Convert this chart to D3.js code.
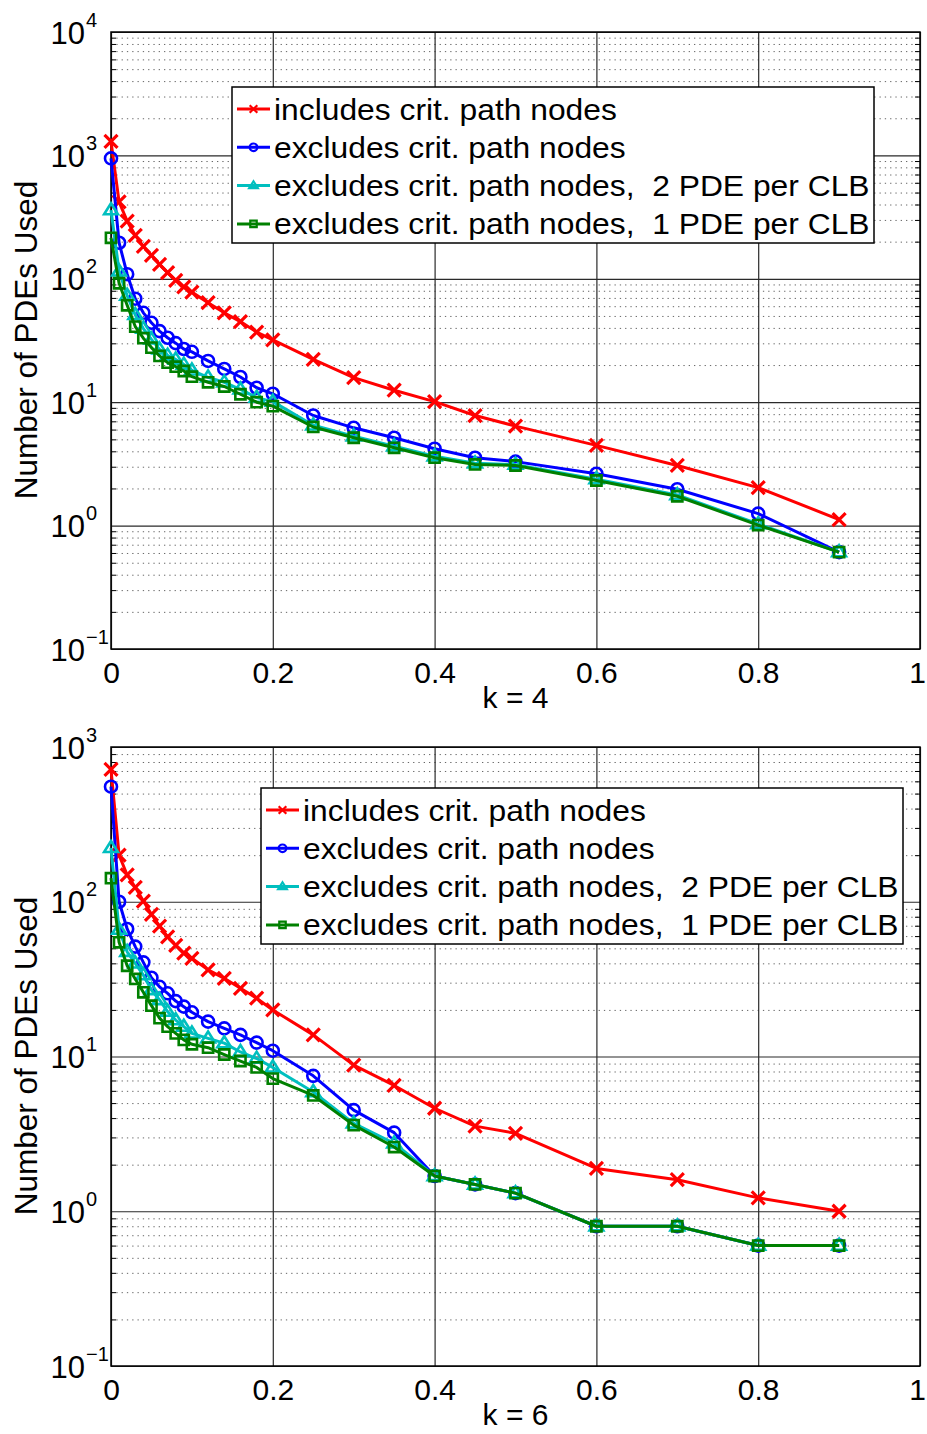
<!DOCTYPE html>
<html>
<head>
<meta charset="utf-8">
<script src="https://cdn.jsdelivr.net/npm/d3@7"></script>
<style>
  html, body { margin: 0; padding: 0; background: #fff; }
  svg { display: block; }
  text { font-family: "Liberation Sans", Arial, Helvetica, sans-serif; fill: #000; white-space: pre; }
</style>
</head>
<body>
<svg id="chart" width="927" height="1434"></svg>
<script>
// ---------------- DATA ----------------
const kValues = [0, 0.01, 0.02, 0.03, 0.04, 0.05, 0.06, 0.07, 0.08, 0.09, 0.1,
                 0.12, 0.14, 0.16, 0.18, 0.2, 0.25, 0.3, 0.35, 0.4, 0.45, 0.5,
                 0.6, 0.7, 0.8, 0.9];

const seriesNames = [
  "includes crit. path nodes",
  "excludes crit. path nodes",
  "excludes crit. path nodes,  2 PDE per CLB",
  "excludes crit. path nodes,  1 PDE per CLB"
];

// k = 4 panel
const k4Includes = [1300, 420, 293, 225, 183, 155, 131, 112, 97, 86, 78, 64, 53, 45, 37, 32,
                    22.2, 15.8, 12.5, 10.1, 7.8, 6.4, 4.47, 3.07, 2.03, 1.12];
const k4Excludes = [946, 196, 109, 69, 53, 44, 37.7, 33.3, 30.1, 27, 25.6, 21.6, 18.6, 16.0, 13.1, 11.7,
                    7.8, 6.2, 5.15, 4.2, 3.55, 3.3, 2.63, 1.97, 1.25, 0.61];
const k4Excl2PDE = [360, 115, 73, 51, 39.5, 32.3, 26.8, 23.9, 22.2, 20.2, 18.1, 15.9, 14.5, 12.7, 10.9, 10.1,
                    6.5, 5.3, 4.4, 3.65, 3.2, 3.12, 2.38, 1.77, 1.03, 0.61];
const k4Excl1PDE = [215, 92, 61, 41, 33, 27.7, 23.7, 20.9, 19.4, 17.9, 16.1, 14.5, 13.4, 11.6, 10.0, 9.3,
                    6.3, 5.15, 4.27, 3.55, 3.13, 3.07, 2.32, 1.73, 1.01, 0.61];

// k = 6 panel
const k6Includes = [716, 200, 149, 124, 101, 83, 69.5, 59.4, 52.3, 46.5, 43.1, 36.3, 32, 27.6, 23.8, 20,
                    13.8, 8.8, 6.5, 4.63, 3.55, 3.19, 1.89, 1.6, 1.22, 1.0];
const k6Excludes = [554, 100, 66.7, 51.3, 40.6, 32.3, 28.2, 25.6, 22.8, 21, 19.3, 16.8, 15.2, 13.8, 12.3, 10.9,
                    7.5, 4.5, 3.22, 1.69, 1.49, 1.31, 0.8, 0.8, 0.6, 0.6];
const k6Excl2PDE = [223, 66, 47.5, 40, 33.6, 26.9, 23.2, 19.5, 17.2, 15.6, 14.1, 13.1, 12.2, 10.7, 9.7, 8.5,
                    5.9, 3.7, 2.75, 1.69, 1.49, 1.31, 0.8, 0.8, 0.6, 0.6];
const k6Excl1PDE = [142, 54.7, 38.6, 31.7, 26, 21.3, 17.7, 15.6, 14.1, 12.8, 12.0, 11.4, 10.3, 9.35, 8.5, 7.2,
                    5.6, 3.6, 2.6, 1.69, 1.49, 1.31, 0.8, 0.8, 0.6, 0.6];

const xTicks = [0, 0.2, 0.4, 0.6, 0.8, 1];
const xTickLabels = ["0", "0.2", "0.4", "0.6", "0.8", "1"];
const k4YExponents = [-1, 0, 1, 2, 3, 4];
const k6YExponents = [-1, 0, 1, 2, 3];
const xAxisTitles = ["k = 4", "k = 6"];
const yAxisTitle = "Number of PDEs Used";

// ---------------- STYLE ----------------
const colors = ["#ff0000", "#0000ff", "#00bfbf", "#008000"];
const markers = ["cross", "circle", "triangle", "square"];

const svg = d3.select("#chart");
const xLeft = 111, xRight = 920;

function markerPath(type, s) {
  if (type === "cross") return `M${-s},${-s}L${s},${s}M${-s},${s}L${s},${-s}`;
  if (type === "circle") return `M${s},0A${s},${s} 0 1,1 ${-s},0A${s},${s} 0 1,1 ${s},0Z`;
  if (type === "triangle") { const h = s * 1.15; return `M0,${-h}L${h},${h*0.6}L${-h},${h*0.6}Z`; }
  if (type === "square") { const q = s * 0.85; return `M${-q},${-q}H${q}V${q}H${-q}Z`; }
}

function drawPanel(cfg) {
  const g = svg.append("g");
  const x = d3.scaleLinear().domain([0, 1]).range([xLeft, xRight]);
  const y = d3.scaleLog().domain([0.1, Math.pow(10, cfg.exps[cfg.exps.length - 1])]).range([cfg.bottom, cfg.top]);
  const width = xRight - xLeft, height = cfg.bottom - cfg.top;

  // minor grid (dotted)
  const minor = [];
  for (let e = cfg.exps[0]; e < cfg.exps[cfg.exps.length - 1]; e++)
    for (let m = 2; m <= 9; m++) minor.push(m * Math.pow(10, e));
  g.append("g").attr("transform", `translate(${xLeft},0)`)
    .call(d3.axisLeft(y).tickValues(minor).tickSize(-width).tickFormat(""))
    .call(s => s.select(".domain").remove())
    .call(s => s.selectAll("line").attr("stroke", "#666").attr("stroke-width", 1).attr("stroke-dasharray", "1.3,4"));

  // major grid
  const majors = cfg.exps.map(e => Math.pow(10, e));
  g.append("g").attr("transform", `translate(${xLeft},0)`)
    .call(d3.axisLeft(y).tickValues(majors).tickSize(-width).tickFormat(""))
    .call(s => s.select(".domain").remove())
    .call(s => s.selectAll("line").attr("stroke", "#2a2a2a").attr("stroke-width", 1.2));
  g.append("g").attr("transform", `translate(0,${cfg.bottom})`)
    .call(d3.axisBottom(x).tickValues(xTicks).tickSize(-height).tickFormat(""))
    .call(s => s.select(".domain").remove())
    .call(s => s.selectAll("line").attr("stroke", "#2a2a2a").attr("stroke-width", 1.2));

  // inside minor ticks on left and right
  g.append("g").attr("transform", `translate(${xLeft},0)`)
    .call(d3.axisLeft(y).tickValues(minor).tickSize(-5).tickFormat(""))
    .call(s => s.select(".domain").remove())
    .call(s => s.selectAll("line").attr("stroke", "#000").attr("stroke-width", 1));
  g.append("g").attr("transform", `translate(${xRight},0)`)
    .call(d3.axisRight(y).tickValues(minor).tickSize(-5).tickFormat(""))
    .call(s => s.select(".domain").remove())
    .call(s => s.selectAll("line").attr("stroke", "#000").attr("stroke-width", 1));

  // frame
  g.append("rect").attr("x", xLeft).attr("y", cfg.top).attr("width", width).attr("height", height)
    .attr("fill", "none").attr("stroke", "#000").attr("stroke-width", 1.5);

  // x tick labels
  const xa = g.append("g").attr("transform", `translate(0,${cfg.bottom})`)
    .call(d3.axisBottom(x).tickValues(xTicks).tickSize(0).tickPadding(0)
      .tickFormat((d, i) => xTickLabels[i]));
  xa.select(".domain").remove();
  xa.selectAll("text").attr("y", 34).attr("dy", null)
    .attr("dx", d => d === 1 ? -3 : 0)
    .style("font-size", "30px").attr("font-family", null);

  // y tick labels 10^n
  const ya = g.append("g").attr("transform", `translate(${xLeft},0)`)
    .call(d3.axisLeft(y).tickValues(majors).tickSize(0).tickFormat(""));
  ya.select(".domain").remove();
  ya.selectAll(".tick").each(function(d) {
    const e = Math.round(Math.log10(d));
    const t = d3.select(this);
    t.append("text").attr("x", 85 - xLeft).attr("y", 11).attr("text-anchor", "end")
      .style("font-size", "31px").text("10");
    t.append("text").attr("x", 86 - xLeft).attr("y", -6).attr("text-anchor", "start")
      .style("font-size", "20px").text(e < 0 ? "\u2212" + Math.abs(e) : String(e));
  });

  // axis titles
  g.append("text").attr("x", (xLeft + xRight) / 2).attr("y", cfg.bottom + 59)
    .attr("text-anchor", "middle").style("font-size", "30px").text(cfg.xTitle);
  g.append("text").attr("transform", `translate(37,${cfg.yTitleY}) rotate(-90)`)
    .attr("text-anchor", "middle").style("font-size", "31.5px").text(yAxisTitle);

  // series
  const line = d3.line().x((d, i) => x(kValues[i])).y(d => y(d));
  cfg.series.forEach((vals, si) => {
    const sg = g.append("g");
    sg.append("path").attr("d", line(vals)).attr("fill", "none")
      .attr("stroke", colors[si]).attr("stroke-width", 3).attr("stroke-linejoin", "round");
    sg.selectAll("path.m").data(vals).enter().append("path").attr("class", "m")
      .attr("transform", (d, i) => `translate(${x(kValues[i])},${y(d)})`)
      .attr("d", markerPath(markers[si], si === 0 ? 6.5 : 6))
      .attr("fill", "none").attr("stroke", colors[si]).attr("stroke-width", si === 0 ? 3.2 : 2.6);
  });

  // legend
  const lg = g.append("g").attr("transform", `translate(${cfg.legendX},${cfg.legendY})`);
  lg.append("rect").attr("x", 0).attr("y", 0).attr("width", 642).attr("height", 156)
    .attr("fill", "#fff").attr("stroke", "#000").attr("stroke-width", 1.5);
  seriesNames.forEach((name, i) => {
    const cy = 22 + i * 38.3;
    lg.append("line").attr("x1", 5).attr("x2", 38).attr("y1", cy).attr("y2", cy)
      .attr("stroke", colors[i]).attr("stroke-width", 3);
    lg.append("path").attr("transform", `translate(21.5,${cy})`).attr("d", markerPath(markers[i], 3.8))
      .attr("fill", "none").attr("stroke", colors[i]).attr("stroke-width", 2.2);
    lg.append("text").attr("transform", `translate(42,${cy + 10.5}) scale(1.06,1)`)
      .attr("xml:space", "preserve")
      .style("font-size", "30px").text(name);
  });
}

drawPanel({
  top: 32, bottom: 649, exps: k4YExponents, xTitle: xAxisTitles[0], yTitleY: 340,
  series: [k4Includes, k4Excludes, k4Excl2PDE, k4Excl1PDE],
  legendX: 232, legendY: 87
});
drawPanel({
  top: 747, bottom: 1366, exps: k6YExponents, xTitle: xAxisTitles[1], yTitleY: 1056,
  series: [k6Includes, k6Excludes, k6Excl2PDE, k6Excl1PDE],
  legendX: 261, legendY: 788
});
</script>
</body>
</html>
